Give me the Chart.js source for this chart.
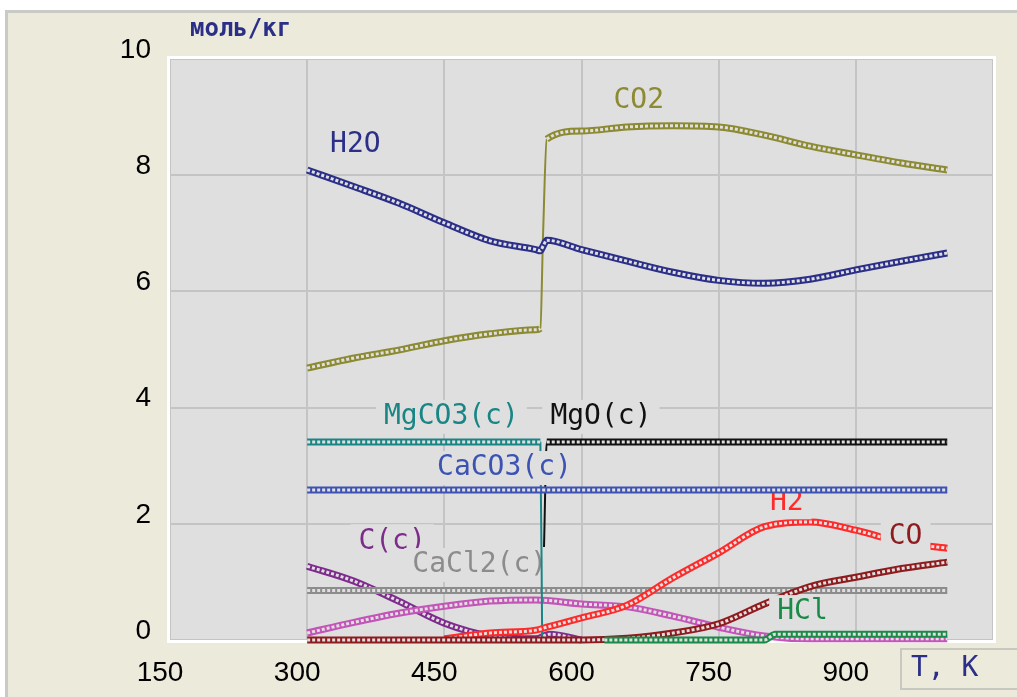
<!DOCTYPE html>
<html>
<head>
<meta charset="utf-8">
<script src="https://cdn.jsdelivr.net/npm/chart.js@4.4.1/dist/chart.umd.min.js"></script>
<style>
  html, body { margin: 0; padding: 0; background: #ECEADA; }
  canvas { display: block; }
</style>
</head>
<body>
<canvas id="chart" width="1017" height="697"></canvas>
<script>
// оси
const xTicks = [150, 300, 450, 600, 750, 900, 1050];
const yTicks = [0, 2, 4, 6, 8, 10];

// H2O и CO2 (скачок около 557 K)
const tMain = [300, 350, 400, 450, 500, 550, 555, 558, 562, 600, 650, 700, 750, 800, 850, 900, 950, 1000];
const h2o = [8.09, 7.81, 7.52, 7.18, 6.87, 6.72, 6.70, 6.78, 6.88, 6.72, 6.52, 6.33, 6.19, 6.14, 6.21, 6.37, 6.52, 6.66];
const co2 = [4.68, 4.85, 4.99, 5.15, 5.27, 5.34, 5.36, 7.0, 8.62, 8.76, 8.83, 8.85, 8.83, 8.69, 8.50, 8.35, 8.21, 8.09];

const tFlat = [300, 1000];
const caco3 = [2.58, 2.58];
const cacl2 = [0.85, 0.85];

const tMgco3 = [300, 555, 557];
const mgco3 = [3.41, 3.41, 0];

const tMgo = [559, 562, 1000];
const mgo = [1.6, 3.41, 3.41];

const tC = [300, 350, 400, 450, 500, 550, 565, 600];
const cc = [1.27, 1.02, 0.67, 0.29, 0.07, 0.02, 0.10, 0];

const tPink = [300, 350, 400, 450, 500, 550, 600, 650, 700, 750, 800, 850, 900, 950, 1000];
const pink = [0.12, 0.30, 0.46, 0.58, 0.67, 0.69, 0.62, 0.57, 0.41, 0.22, 0.07, 0.02, 0.02, 0.02, 0.02];

const tH2 = [450, 500, 550, 562, 600, 650, 700, 750, 800, 850, 900, 950, 1000];
const h2 = [0.02, 0.12, 0.17, 0.22, 0.38, 0.60, 1.07, 1.50, 1.95, 2.03, 1.89, 1.68, 1.58];

const tCo = [300, 600, 650, 700, 750, 800, 850, 900, 950, 1000];
const co = [0, 0, 0.03, 0.12, 0.28, 0.62, 0.92, 1.08, 1.23, 1.34];

const tHcl = [625, 800, 812, 1000];
const hcl = [0, 0, 0.1, 0.1];

const PLOT_BG = '#DFDFDF';

// порядок отрисовки: снизу вверх
const series = [
  { t: tMain, v: co2, color: '#8C8A32', label: 'CO2', at: [635, 9.28] },
  { t: tMain, v: h2o, color: '#2B2F88', label: 'H2O', at: [325, 8.52] },
  { t: tMgo, v: mgo, color: '#111111', label: 'MgO(c)', at: [566, 3.84] },
  { t: tC, v: cc, color: '#7E2C8C', label: 'C(c)', at: [356, 1.70] },
  { t: tFlat, v: cacl2, color: '#8C8C8C', label: 'CaCl2(c)', at: [415, 1.29] },
  { t: tPink, v: pink, color: '#C455B8' },
  { t: tMgco3, v: mgco3, color: '#1A8585', label: 'MgCO3(c)', at: [384, 3.84] },
  { t: tH2, v: h2, color: '#FF2A2A', label: 'H2', at: [806, 2.37] },
  { t: tCo, v: co, color: '#8E1B1E', label: 'CO', at: [936, 1.77] },
  { t: tHcl, v: hcl, color: '#1A8A48', label: 'HCl', at: [814, 0.48] },
  { t: tFlat, v: caco3, color: '#3C53B4', label: 'CaCO3(c)', at: [442, 2.96] }
];

// крутые участки (скачки) рисуются тонкой линией без "цепочки"
const steep = c => Math.abs(c.p1.y - c.p0.y) > 3 * Math.abs(c.p1.x - c.p0.x) + 4;

const datasets = [];
series.forEach((s, k) => {
  const pts = s.t.map((t, i) => ({ x: t, y: s.v[i] }));
  datasets.push({
    data: pts, borderColor: s.color, borderWidth: 7, order: 1000 - 2 * k,
    segment: { borderWidth: c => (steep(c) ? 2 : 7) }
  });
  datasets.push({
    data: pts, borderColor: PLOT_BG, borderWidth: 3, borderDash: [3, 2], order: 999 - 2 * k,
    segment: { borderColor: c => (steep(c) ? 'rgba(0,0,0,0)' : PLOT_BG) },
    seriesLabel: s.label ? { text: s.label, at: s.at, color: s.color } : null
  });
});

const LABEL_FONT = '28px "DejaVu Sans Mono", monospace';

const frame = {
  id: 'frame',
  beforeDraw(chart) {
    const { ctx, chartArea: a, width, height } = chart;
    ctx.save();
    ctx.fillStyle = '#ECEADA';
    ctx.fillRect(0, 0, width, height);
    ctx.fillStyle = '#FFFFFF';
    ctx.fillRect(0, 0, width, 10);
    ctx.fillRect(0, 0, 5, height);
    ctx.fillStyle = '#C9C9C6';
    ctx.fillRect(5, 10, width - 5, 3);
    ctx.fillRect(5, 10, 3, height - 10);
    ctx.fillStyle = PLOT_BG;
    ctx.fillRect(a.left, a.top, a.right - a.left, a.bottom - a.top);
    ctx.restore();
  },
  beforeDatasetsDraw(chart) {
    const { ctx, chartArea: a } = chart;
    ctx.save();
    ctx.strokeStyle = '#FFFFFF';
    ctx.lineWidth = 3;
    ctx.strokeRect(a.left - 1.5, a.top - 1.5, a.right - a.left + 3, a.bottom - a.top + 3);
    ctx.restore();
  },
  afterDatasetDraw(chart, args) {
    const lab = chart.data.datasets[args.index].seriesLabel;
    if (!lab) return;
    const { ctx, scales } = chart;
    const x = scales.x.getPixelForValue(lab.at[0]);
    const y = scales.y.getPixelForValue(lab.at[1]);
    ctx.save();
    ctx.font = LABEL_FONT;
    const w = ctx.measureText(lab.text).width;
    ctx.fillStyle = PLOT_BG;
    ctx.fillRect(x - 8, y - 17, w + 16, 34);
    ctx.fillStyle = lab.color;
    ctx.textBaseline = 'middle';
    ctx.fillText(lab.text, x, y);
    ctx.restore();
  },
  afterDraw(chart) {
    const { ctx } = chart;
    ctx.save();
    ctx.fillStyle = '#2B2F88';
    ctx.font = 'bold 24px "DejaVu Sans Mono", monospace';
    ctx.textBaseline = 'middle';
    ctx.fillText('моль/кг', 190, 30);
    ctx.strokeStyle = '#C8C8C0';
    ctx.lineWidth = 2;
    ctx.strokeRect(901, 649, 130, 40);
    ctx.font = LABEL_FONT;
    ctx.fillText('T, K', 911, 669);
    ctx.restore();
  }
};

const tickFont = { family: '"Liberation Sans", sans-serif', size: 28 };

new Chart(document.getElementById('chart'), {
  type: 'line',
  data: { datasets },
  options: {
    responsive: false,
    animation: false,
    clip: false,
    layout: { padding: { left: 0, top: 59, right: 24, bottom: 0 } },
    elements: {
      point: { radius: 0 },
      line: { cubicInterpolationMode: 'monotone', borderCapStyle: 'butt', fill: false }
    },
    plugins: { legend: { display: false }, tooltip: { enabled: false } },
    scales: {
      x: {
        type: 'linear', min: 150, max: 1050,
        afterBuildTicks: s => { s.ticks = xTicks.map(v => ({ value: v })); },
        afterFit: s => { s.height = 57; },
        grid: { color: '#C4C4C4', lineWidth: 2, drawTicks: false },
        border: { display: false },
        ticks: {
          font: tickFont, color: '#000', padding: 16, labelOffset: -10, maxRotation: 0,
          autoSkip: false,
          callback: v => (v === 1050 ? '' : String(v))
        }
      },
      y: {
        type: 'linear', min: 0, max: 10,
        afterBuildTicks: s => { s.ticks = yTicks.map(v => ({ value: v })); },
        afterFit: s => { s.width = 170; },
        grid: { color: '#C4C4C4', lineWidth: 2, drawTicks: false },
        border: { display: false },
        ticks: { font: tickFont, color: '#000', padding: 19, labelOffset: -9, autoSkip: false }
      }
    }
  },
  plugins: [frame]
});
</script>
</body>
</html>
